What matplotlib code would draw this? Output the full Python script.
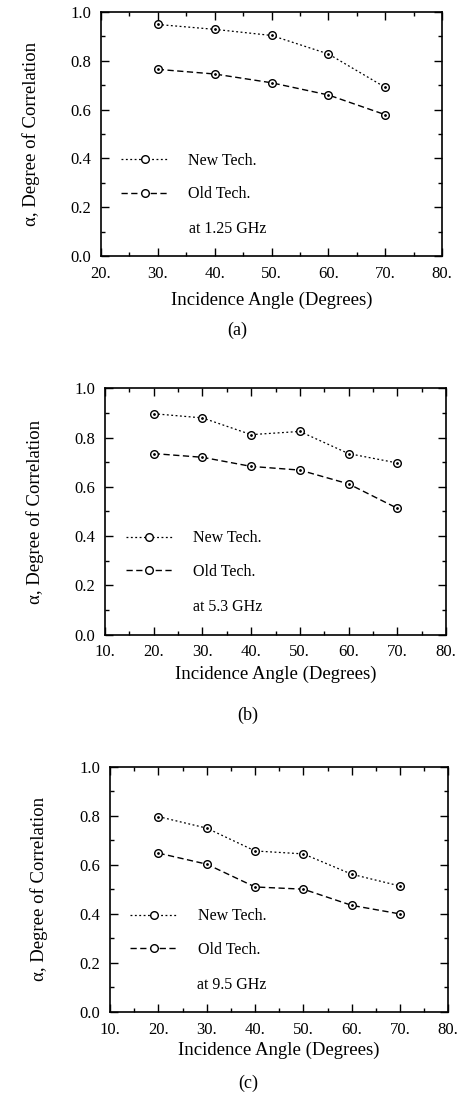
import matplotlib
matplotlib.use("Agg")
import matplotlib.pyplot as plt
from matplotlib.ticker import MultipleLocator, FormatStrFormatter

plt.rcParams['font.family'] = ['Liberation Serif', 'DejaVu Serif']

# data
angles_a = [30, 40, 50, 60, 70]
new_a = [0.949, 0.929, 0.904, 0.828, 0.691]
old_a = [0.765, 0.746, 0.710, 0.660, 0.579]

angles_bc = [20, 30, 40, 50, 60, 70]
new_b = [0.897, 0.880, 0.812, 0.825, 0.735, 0.697]
old_b = [0.735, 0.720, 0.683, 0.668, 0.612, 0.513]

new_c = [0.797, 0.750, 0.657, 0.645, 0.562, 0.514]
old_c = [0.648, 0.603, 0.510, 0.501, 0.435, 0.400]

freqs = ['at 1.25 GHz', 'at 5.3 GHz', 'at 9.5 GHz']
tags = ['(a)', '(b)', '(c)']
xlims = [(20, 80), (10, 80), (10, 80)]

panels = [
    (angles_a, new_a, old_a),
    (angles_bc, new_b, old_b),
    (angles_bc, new_c, old_c),
]

# axes boxes [left, bottom, width, height]
boxes = [
    [0.217, 0.766, 0.734, 0.223],
    [0.226, 0.420, 0.733, 0.225],
    [0.237, 0.075, 0.727, 0.224],
]
tag_pos = [(0.51, 0.698), (0.533, 0.346), (0.533, 0.010)]
xpads = [7, 4, 3]
ypads = [22, 22, 23]

fig = plt.figure(figsize=(4.65, 10.94), dpi=100)

for i in range(3):
    x, yn, yo = panels[i]
    ax = fig.add_axes(boxes[i])
    ax.plot(x, yn, color='k', lw=0.9, dashes=(1.5, 2), marker='o', ms=5.5,
            mfc='white', mec='k', mew=1.0, label='New Tech.')
    ax.plot(x, yo, color='k', lw=1.0, dashes=(4.5, 2.5), marker='o', ms=5.5,
            mfc='white', mec='k', mew=1.0, label='Old Tech.')
    # little dot in the middle of each marker
    ax.plot(x, yn, ls='none', marker='.', ms=2, color='k')
    ax.plot(x, yo, ls='none', marker='.', ms=2, color='k')

    ax.set_xlim(*xlims[i])
    ax.set_ylim(0, 1.0)
    ax.xaxis.set_major_locator(MultipleLocator(10))
    ax.xaxis.set_minor_locator(MultipleLocator(5))
    ax.yaxis.set_major_locator(MultipleLocator(0.2))
    ax.yaxis.set_minor_locator(MultipleLocator(0.1))
    ax.xaxis.set_major_formatter(FormatStrFormatter('%d.'))
    ax.yaxis.set_major_formatter(FormatStrFormatter('%.1f'))
    ax.tick_params(which='both', direction='in', top=True, right=True,
                   labelsize=12, width=1.0)
    ax.tick_params(which='major', length=6, pad=7)
    ax.tick_params(which='minor', length=3)
    for s in ax.spines.values():
        s.set_linewidth(1.2)

    ax.set_xlabel('Incidence Angle (Degrees)', fontsize=13.5, labelpad=xpads[i])
    ax.set_ylabel('α, Degree of Correlation', fontsize=13.5,
                  labelpad=ypads[i])

    ax.legend(loc='center left', bbox_to_anchor=(0.06, 0.322), frameon=False,
              fontsize=11.5, handlelength=3.0, handletextpad=1.2,
              labelspacing=1.1, numpoints=1, borderpad=0, borderaxespad=0)
    ax.text(0.258, 0.11, freqs[i], transform=ax.transAxes, fontsize=11.5,
            va='center')

    fig.text(tag_pos[i][0], tag_pos[i][1], tags[i], fontsize=13,
             ha='center', va='center')

fig.savefig('out.png', dpi=100, facecolor='white')
